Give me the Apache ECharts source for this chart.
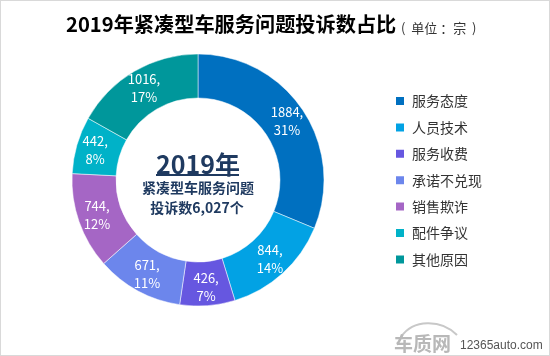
<!DOCTYPE html>
<html><head><meta charset="utf-8">
<script src="https://cdn.jsdelivr.net/npm/echarts@6/dist/echarts.min.js"></script>
<style>html,body{margin:0;padding:0;background:#fff}#c{width:550px;height:356px;box-sizing:border-box;border:1px solid #d9d9d9}</style>
</head><body><div id="c"></div>
<script>
const categories = ['服务态度','人员技术','服务收费','承诺不兑现','销售欺诈','配件争议','其他原因'];
const values = [1884, 844, 426, 671, 744, 442, 1016];
const percents = ['31%','14%','7%','11%','12%','8%','17%'];
const colors = ['#0070C0','#02A2E4','#6657E0','#6C86EC','#A566C5','#00B2C8','#00979B'];
const total = '6,027';

const chart = echarts.init(document.getElementById('c'));
const font = '"Noto Sans CJK SC", "Noto Sans", sans-serif';
const navy = '#1F3A60';
chart.setOption({
  animation: false,
  color: colors,
  title: {
    text: '2019年紧凑型车服务问题投诉数占比',
    left: 60, top: 8,
    textStyle: {fontFamily: font, fontSize: 20.2, fontWeight: 'bold', color: '#000'}
  },
  legend: {
    orient: 'vertical', left: 388, top: 88, itemGap: 12.4,
    itemWidth: 10, itemHeight: 10, icon: 'rect',
    textStyle: {fontFamily: font, fontSize: 14, color: '#333', padding:[0,0,0,2]},
    data: categories
  },
  graphic: [
    {type:'text', x: 400, y: 27, style:{text:'(  单位 ：宗  )', font:'13px "Noto Sans CJK SC"', fill:'#333', textVerticalAlign:'middle'}},
    {type:'text', x: 197, y: 163, style:{text:'2019年', font:'bold 25px "Noto Sans CJK SC"', fill:navy, textAlign:'center', textVerticalAlign:'middle'}},
    {type:'rect', shape:{x:155, y:173, width:83, height:2}, style:{fill:navy}},
    {type:'text', x: 197, y: 187, style:{text:'紧凑型车服务问题', font:'bold 14px "Noto Sans CJK SC"', fill:navy, textAlign:'center', textVerticalAlign:'middle'}},
    {type:'text', x: 196, y: 207, style:{text:'投诉数' + total + '个', font:'bold 14px "Noto Sans CJK SC"', fill:navy, textAlign:'center', textVerticalAlign:'middle'}},
    {type:'bezierCurve', shape:{x1:400, y1:336, x2:456, y2:334, cpx1:412, cpy1:318, cpx2:440, cpy2:318}, style:{stroke:'#c8c8c8', lineWidth:2, fill:null}},
    {type:'text', x: 393, y: 343, style:{text:'车质网', font:'bold 19px "Noto Sans CJK SC"', fill:'#b8b8b8', textVerticalAlign:'middle'}},
    {type:'text', x: 459, y: 345, style:{text:'12365auto.com', font:'12px "Liberation Sans"', fill:'#555', textVerticalAlign:'middle'}}
  ],
  series: [{
    type: 'pie',
    center: [197, 179],
    radius: [82, 126],
    startAngle: 90,
    clockwise: true,
    data: categories.map((n,i)=>({name:n, value:values[i]})),
    itemStyle: {borderColor:'#fff', borderWidth:0.5},
    label: {
      position: 'inside',
      formatter: p => values[p.dataIndex] + ',\n' + percents[p.dataIndex],
      color: '#fff', fontFamily: font, fontSize: 13, lineHeight: 18
    },
    labelLine: {show:false}
  }]
});
</script></body></html>
